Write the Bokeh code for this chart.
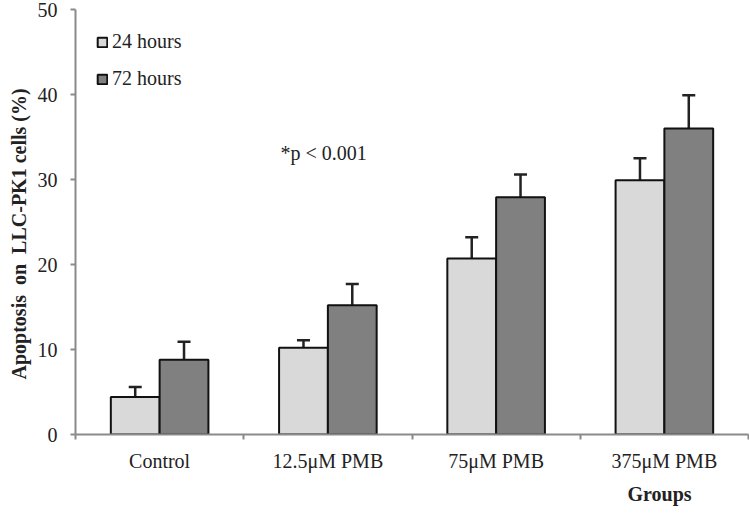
from bokeh.plotting import figure
from bokeh.models import (ColumnDataSource, Range1d, FixedTicker, Whisker, TeeHead,
                          Label, Legend, LegendItem, Title)
from bokeh.embed import file_html
from bokeh.resources import INLINE

groups = ["Control", "12.5\u03bcM PMB", "75\u03bcM PMB", "375\u03bcM PMB"]
series_names = ["24 hours", "72 hours"]
vals_24 = [4.4, 10.2, 20.7, 29.9]
err_24 = [1.2, 0.9, 2.5, 2.6]
vals_72 = [8.8, 15.2, 27.9, 36.0]
err_72 = [2.1, 2.5, 2.7, 3.9]
y_ticks = [0, 10, 20, 30, 40, 50]

FONT = "Liberation Serif"
LIGHT = "#d9d9d9"
DARK = "#808080"
AXIS = "#8a8a8a"
TXT = "#222222"

bar_w = 0.29
centers = [i + 0.5 for i in range(len(groups))]

p = figure(width=749, height=512, output_backend="svg", toolbar_location=None,
           x_range=Range1d(0, len(groups)), y_range=Range1d(0, 50),
           min_border_left=75, min_border_right=1, min_border_top=9, min_border_bottom=78)
p.outline_line_color = None
p.xgrid.visible = False
p.ygrid.visible = False
p.background_fill_color = "white"

src24 = ColumnDataSource(dict(x=[c - bar_w / 2 for c in centers], top=vals_24,
                              up=[v + e for v, e in zip(vals_24, err_24)]))
src72 = ColumnDataSource(dict(x=[c + bar_w / 2 for c in centers], top=vals_72,
                              up=[v + e for v, e in zip(vals_72, err_72)]))

r24 = p.vbar(x="x", top="top", width=bar_w, source=src24, fill_color=LIGHT,
             line_color="#111111", line_width=2)
r72 = p.vbar(x="x", top="top", width=bar_w, source=src72, fill_color=DARK,
             line_color="#111111", line_width=2)

for src in (src24, src72):
    w = Whisker(base="x", lower="top", upper="up", source=src, dimension="height",
                line_color="#222222", line_width=2.5,
                upper_head=TeeHead(size=13, line_color="#222222", line_width=2.5),
                lower_head=None)
    p.add_layout(w)

# x axis: labels at centers, ticks at boundaries
p.xaxis.ticker = FixedTicker(ticks=centers, minor_ticks=list(range(len(groups) + 1)))
p.xaxis.major_label_overrides = {c: g for c, g in zip(centers, groups)}
p.xaxis.major_tick_out = 0
p.xaxis.major_tick_in = 0
p.xaxis.minor_tick_out = 5
p.xaxis.minor_tick_in = 0
p.xaxis.major_label_standoff = 10

p.yaxis.ticker = FixedTicker(ticks=y_ticks)
p.yaxis.major_tick_out = 5
p.yaxis.major_tick_in = 0
p.yaxis.major_label_standoff = 13

for ax in (p.xaxis, p.yaxis):
    ax.axis_line_color = AXIS
    ax.axis_line_width = 2
    ax.major_tick_line_color = AXIS
    ax.major_tick_line_width = 2
    ax.minor_tick_line_color = AXIS
    ax.minor_tick_line_width = 2
    ax.major_label_text_font = FONT
    ax.major_label_text_font_size = "20px"
    ax.major_label_text_color = TXT
p.yaxis.minor_tick_line_color = None

# axis titles as side-panel titles
ytitle = Title(text="Apoptosis \u00a0on \u00a0LLC-PK1 cells (%)", align="left", offset=55,
               text_font=FONT, text_font_size="20px", text_font_style="bold",
               text_color=TXT, standoff=9)
p.add_layout(ytitle, "left")
xtitle = Title(text="Groups", align="left", offset=552, text_font=FONT,
               text_font_size="20px", text_font_style="bold", text_color=TXT,
               standoff=13)
p.add_layout(xtitle, "below")

p.add_layout(Label(x=1.218, y=33.06, text="*p < 0.001", text_align="left",
                   text_baseline="middle", text_font=FONT, text_font_size="20px",
                   text_color=TXT))

legend = Legend(items=[LegendItem(label=series_names[0], renderers=[r24]),
                       LegendItem(label=series_names[1], renderers=[r72])],
                margin=0, padding=0)
legend.location = (21, 343)
legend.glyph_width = 12
legend.glyph_height = 12
legend.label_height = 25
legend.spacing = 12
legend.label_standoff = 4
legend.label_text_font = FONT
legend.label_text_font_size = "20px"
legend.label_text_color = TXT
legend.border_line_color = None
legend.background_fill_alpha = 0
p.add_layout(legend)

open("out.html", "w").write(file_html(p, INLINE))
